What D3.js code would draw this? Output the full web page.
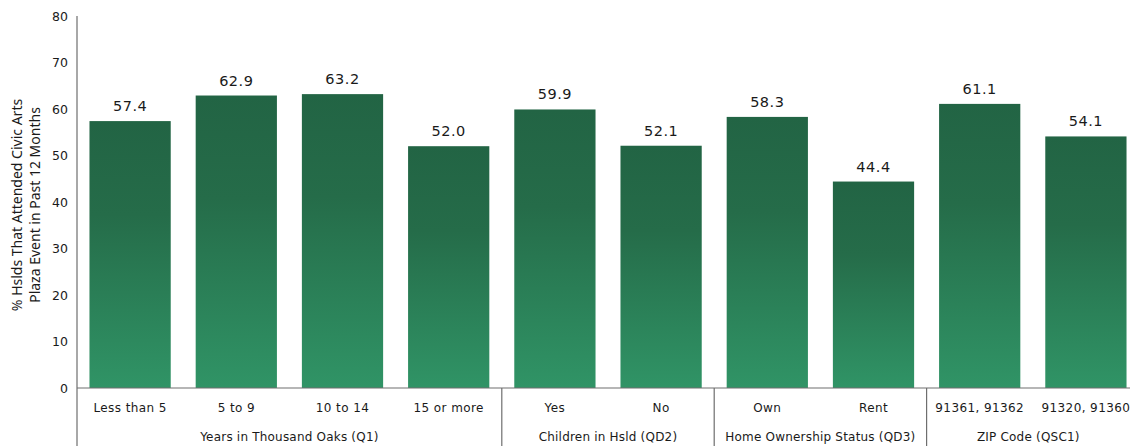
<!DOCTYPE html>
<html>
<head>
<meta charset="utf-8">
<script src="https://cdn.jsdelivr.net/npm/d3@7"></script>
<style>
  html, body { margin: 0; padding: 0; background: #fff; }
  svg { display: block; }
  text { font-family: "DejaVu Sans", Verdana, sans-serif; fill: #1a1a1a; }
</style>
</head>
<body>
<svg id="chart" width="1130" height="446"></svg>
<script>
// Survey breakdown: share of households that attended a Civic Arts Plaza event
const categories = ["Less than 5", "5 to 9", "10 to 14", "15 or more", "Yes", "No", "Own", "Rent", "91361, 91362", "91320, 91360"];
const values = [57.4, 62.9, 63.2, 52.0, 59.9, 52.1, 58.3, 44.4, 61.1, 54.1];
const groups = ["Years in Thousand Oaks (Q1)", "Years in Thousand Oaks (Q1)", "Years in Thousand Oaks (Q1)", "Years in Thousand Oaks (Q1)",
                "Children in Hsld (QD2)", "Children in Hsld (QD2)",
                "Home Ownership Status (QD3)", "Home Ownership Status (QD3)",
                "ZIP Code (QSC1)", "ZIP Code (QSC1)"];
const yTicks = [0, 10, 20, 30, 40, 50, 60, 70, 80];
const yTitle = ["% Hslds That Attended Civic Arts", "Plaza Event in Past 12 Months"];

const svg = d3.select("#chart");
const mLeft = 77, mRight = 1139, mTop = 16, mBottom = 388, H = 446, W = 1130;

const pad = 0.235;
const x = d3.scaleBand().domain(categories).range([mLeft, mRight]).paddingInner(pad).paddingOuter(pad / 2);
const y = d3.scaleLinear().domain([0, 80]).range([mBottom, mTop]);

// vertical gradient applied per bar
const defs = svg.append("defs");
const grad = defs.append("linearGradient").attr("id", "barGrad")
  .attr("x1", 0).attr("y1", 0).attr("x2", 0).attr("y2", 1);
grad.append("stop").attr("offset", "0%").attr("stop-color", "#226444");
grad.append("stop").attr("offset", "35%").attr("stop-color", "#256c49");
grad.append("stop").attr("offset", "100%").attr("stop-color", "#309466");

// bars
svg.append("g").selectAll("rect").data(values).join("rect")
  .attr("x", (d, i) => x(categories[i]))
  .attr("y", d => y(d))
  .attr("width", x.bandwidth())
  .attr("height", d => y(0) - y(d))
  .attr("fill", "url(#barGrad)");

// value labels
svg.append("g").selectAll("text").data(values).join("text")
  .attr("x", (d, i) => x(categories[i]) + x.bandwidth() / 2)
  .attr("y", d => y(d) - 10)
  .attr("text-anchor", "middle")
  .style("font-size", "14.5px")
  .style("letter-spacing", "0.5px")
  .text(d => d.toFixed(1));

// y axis
const yAxis = d3.axisLeft(y).tickValues(yTicks).tickSize(0).tickPadding(9);
const gy = svg.append("g").attr("transform", `translate(${mLeft},0)`).call(yAxis);
gy.select(".domain").remove();
gy.selectAll("text").style("font-size", "12.5px").style("font-family", "'DejaVu Sans', sans-serif").attr("fill", "#1a1a1a");

// axis lines
svg.append("line").attr("x1", mLeft).attr("x2", mLeft).attr("y1", mTop).attr("y2", H)
  .attr("stroke", "#6e6e6e").attr("stroke-width", 1.2);
svg.append("line").attr("x1", mLeft).attr("x2", W).attr("y1", mBottom).attr("y2", mBottom)
  .attr("stroke", "#6e6e6e").attr("stroke-width", 1.2);

// category labels
const xAxis = d3.axisBottom(x).tickSize(0).tickPadding(15);
const gx = svg.append("g").attr("transform", `translate(0,${mBottom})`).call(xAxis);
gx.select(".domain").remove();
gx.selectAll("text").style("font-size", "12px").style("font-family", "'DejaVu Sans', sans-serif")
  .style("letter-spacing", "0.4px").attr("fill", "#1a1a1a");

// group labels and separators
const groupNames = Array.from(new Set(groups));
const step = x.step();
groupNames.forEach((g, gi) => {
  const idx = groups.map((v, i) => v === g ? i : -1).filter(i => i >= 0);
  const start = mLeft + idx[0] * step;
  const end = Math.min(mLeft + (idx[idx.length - 1] + 1) * step, W);
  svg.append("text")
    .attr("x", (start + end) / 2).attr("y", 441)
    .attr("text-anchor", "middle")
    .style("font-size", "12px")
    .style("letter-spacing", "0.2px")
    .text(g);
  if (gi > 0) {
    svg.append("line").attr("x1", start).attr("x2", start).attr("y1", mBottom).attr("y2", H)
      .attr("stroke", "#6e6e6e").attr("stroke-width", 1.2);
  }
});

// y axis title
const t = svg.append("text")
  .attr("transform", "translate(22,205) rotate(-90)")
  .attr("text-anchor", "middle")
  .style("font-family", "'Noto Sans', 'Open Sans', sans-serif")
  .style("font-size", "14px");
t.append("tspan").attr("x", 0).attr("dy", 0).text(yTitle[0]);
t.append("tspan").attr("x", 0).attr("dy", 18).text(yTitle[1]);
</script>
</body>
</html>
